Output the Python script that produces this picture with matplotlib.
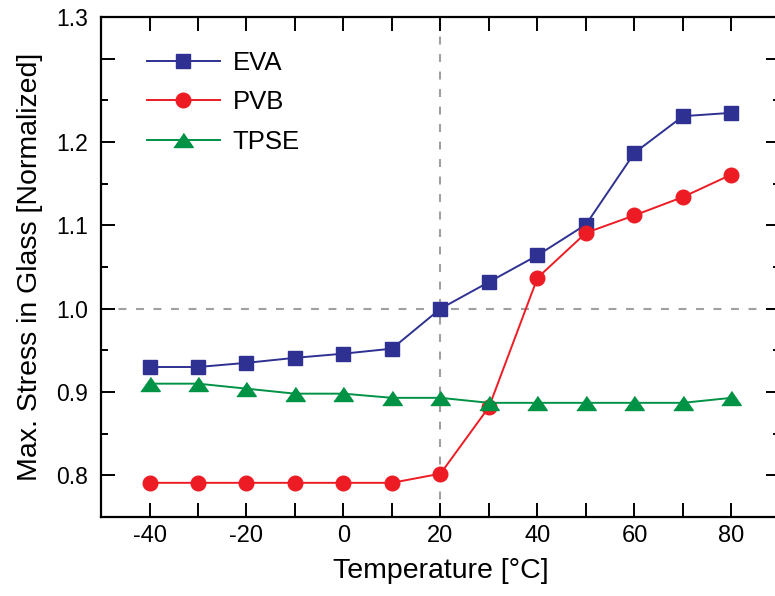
import matplotlib.pyplot as plt
import numpy as np

plt.rcParams['font.family'] = ['Liberation Sans', 'DejaVu Sans']
plt.rcParams['axes.unicode_minus'] = False

temps = [-40, -30, -20, -10, 0, 10, 20, 30, 40, 50, 60, 70, 80]
eva = [0.930, 0.930, 0.935, 0.941, 0.946, 0.952, 1.000, 1.032, 1.064, 1.101, 1.187, 1.231, 1.235]
pvb = [0.791, 0.791, 0.791, 0.791, 0.791, 0.791, 0.802, 0.882, 1.037, 1.091, 1.112, 1.134, 1.161]
tpse = [0.910, 0.910, 0.904, 0.898, 0.898, 0.893, 0.893, 0.887, 0.887, 0.887, 0.887, 0.887, 0.893]

# a flatter triangle than matplotlib's '^'
tri = [(-1, -0.72), (1, -0.72), (0, 0.72)]

fig = plt.figure(figsize=(7.75, 5.96), dpi=100)
# axes run slightly past the right edge of the figure, like the original
ax = fig.add_axes([101/775, 79/596, 679/775, 500/596])

ax.axvline(20, color='#a0a0a0', ls=(0, (3.8, 4.6)), lw=1.5, zorder=1)
ax.axhline(1.0, color='#a0a0a0', ls=(0, (3.8, 4.6)), lw=1.5, zorder=1)

ax.plot(temps, eva, color='#2E3192', marker='s', ms=9.5, lw=1.4,
        mec='#2E3192', label='EVA', zorder=3)
ax.plot(temps, pvb, color='#ED1C24', marker='o', ms=10.5, lw=1.4,
        mec='#ED1C24', label='PVB', zorder=3)
ax.plot(temps, tpse, color='#009245', marker=tri, ms=14, lw=1.4,
        mec='#009245', label='TPSE', zorder=3)

ax.set_xlim(-50, 90)
ax.set_ylim(0.75, 1.35)

ax.set_xticks([-40, -20, 0, 20, 40, 60, 80])
ax.set_xticks(np.arange(-40, 81, 10), minor=True)
ax.set_yticks([0.8, 0.9, 1.0, 1.1, 1.2, 1.3, 1.35],
              labels=['0.8', '0.9', '1.0', '1.1', '1.2', '', '1.3'])
ax.set_yticks(np.arange(0.75, 1.351, 0.05), minor=True)

ax.tick_params(axis='both', which='both', direction='in', top=True, right=True,
               width=1.4)
ax.tick_params(axis='x', which='major', length=10, pad=6, labelsize=17)
ax.tick_params(axis='x', which='minor', length=10)
ax.tick_params(axis='y', which='major', length=10, pad=9, labelsize=16.5)
ax.tick_params(axis='y', which='minor', length=5)
for s in ax.spines.values():
    s.set_linewidth(1.6)

ax.set_xlabel('Temperature [°C]', fontsize=20.5, labelpad=8)
ax.set_ylabel('Max. Stress in Glass [Normalized]', fontsize=20.5, labelpad=10)

ax.legend(loc='upper left', bbox_to_anchor=(0.0677, 0.932), frameon=False,
          fontsize=18.5, handlelength=2.84, handletextpad=0.5,
          labelspacing=0.6, borderpad=0, borderaxespad=0)

fig.savefig('out.png', dpi=100)
